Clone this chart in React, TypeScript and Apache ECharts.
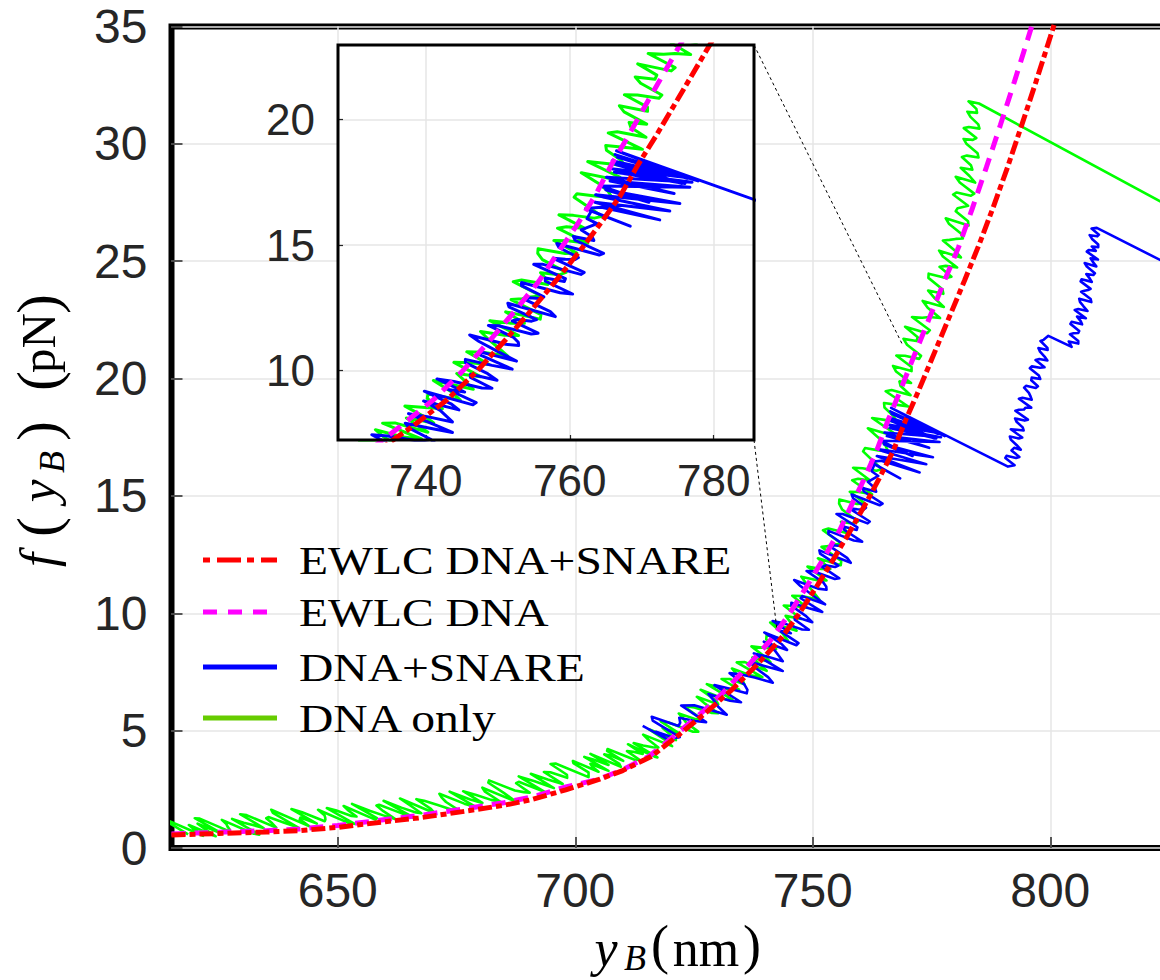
import { useEffect, useRef } from "react";
import * as echarts from "echarts";

type P = [number, number];

const mainXTicks = [650, 700, 750, 800];
const insetXTicks = [740, 760, 780];
const insetYTicks = [10, 15, 20];
const legendNames = ["EWLC DNA+SNARE", "EWLC DNA", "DNA+SNARE", "DNA only"];

const ewlcDnaSnare: P[] = [
  [615, 0.55], [625, 0.62], [635, 0.68], [642, 0.74], [650, 0.88], [660, 1.12], [667, 1.28], [677, 1.57],
  [685, 1.82], [691, 2.07], [698, 2.48], [705, 2.92], [710, 3.3], [716, 3.9], [722, 4.85], [728, 5.85],
  [733, 6.75], [738, 7.75], [743, 8.85], [747, 9.95], [751, 11.2], [754.5, 12.35], [758, 13.55], [761.5, 14.8],
  [764, 15.75], [767, 16.95], [769.5, 18.2], [772, 19.35], [775, 20.8], [778.5, 22.5], [782, 24.2], [785, 25.7],
  [788, 27.3], [791, 29.0], [794, 30.8], [797, 32.65], [800, 34.55], [802, 35.85],
];

const ewlcDna: P[] = [
  [615, 0.6], [625, 0.67], [635, 0.74], [642, 0.81], [650, 0.96], [660, 1.21], [667, 1.38], [677, 1.68],
  [685, 1.93], [691, 2.18], [698, 2.6], [704.7, 2.92], [709.6, 3.3], [715.5, 3.9], [721.3, 4.85], [727.1, 5.85],
  [731.8, 6.75], [736.3, 7.75], [741.1, 8.85], [745.0, 9.95], [748.9, 11.2], [752.3, 12.35], [755.7, 13.55],
  [758.6, 14.8], [760.9, 15.75], [763.5, 16.95], [765.8, 18.2], [768.15, 19.35], [771.0, 20.8], [774.4, 22.5],
  [777.8, 24.2], [780.7, 25.6], [783.6, 27.25], [786.55, 29.0], [789.5, 30.8], [792.45, 32.65], [795.4, 34.55],
  [797.4, 35.85],
];

// DNA only trace: low-force part, middle part, steep part, then the release line
const dnaOnlyLow: P[] = [
  [618.5, 0.58], [614.55, 1.06], [614.5, 1.15], [621.65, 0.52], [620.0, 0.76], [618.65, 0.98], [624.3, 0.5], [622.05, 0.81],
  [620.5, 1.04], [625.65, 0.61], [619.9, 1.27], [620.95, 1.25], [627.2, 0.71], [627.25, 0.79], [626.8, 0.91], [626.55, 1.02],
  [625.6, 1.2], [632.35, 0.61], [633.5, 0.57], [627.75, 1.24], [630.2, 1.08], [632.15, 0.98], [634.4, 0.85], [629.45, 1.44],
  [630.8, 1.4], [637.05, 0.87], [636.2, 1.05], [634.95, 1.27], [635.4, 1.32], [638.75, 1.08], [641.6, 0.88], [636.35, 1.5],
  [636.0, 1.63], [643.95, 0.93], [642.0, 1.22], [642.15, 1.3], [645.6, 1.04], [640.25, 1.66], [642.5, 1.52], [647.25, 1.14],
  [647.4, 1.21], [647.35, 1.3], [647.2, 1.4], [645.85, 1.63], [652.5, 1.05], [653.55, 1.03], [647.7, 1.7], [649.55, 1.61],
  [652.9, 1.36], [653.95, 1.34], [652.3, 1.59], [651.25, 1.79], [657.9, 1.21], [658.25, 1.27], [653.0, 1.88], [656.85, 1.58],
  [659.6, 1.39], [662.05, 1.24], [659.6, 1.57], [658.15, 1.81], [658.7, 1.84], [662.65, 1.54], [666.2, 1.27], [659.65, 2.01],
  [663.4, 1.72], [666.45, 1.51], [667.6, 1.48], [665.35, 1.8], [663.1, 2.11], [670.45, 1.48], [669.6, 1.67], [666.55, 2.08],
  [668.2, 2.01], [671.05, 1.83], [674.2, 1.62], [675.75, 1.57], [672.8, 1.96], [671.85, 2.16], [671.4, 2.31], [676.65, 1.89],
  [679.3, 1.72], [673.55, 2.4], [677.9, 2.07], [680.45, 1.92], [676.4, 2.42], [679.15, 2.26], [682.3, 2.05], [684.25, 1.97],
  [681.0, 2.4], [680.45, 2.57], [687.4, 1.99], [684.95, 2.35], [681.7, 2.78], [681.85, 2.88], [687.3, 2.45], [689.15, 2.38],
  [690.4, 2.36], [687.55, 2.76], [688.1, 2.82], [693.65, 2.38], [688.1, 3.05], [691.45, 2.84], [695.5, 2.55], [690.65, 3.16],
  [694.2, 2.92], [697.35, 2.73], [693.4, 3.24], [694.75, 3.23], [698.3, 2.99], [698.25, 3.12], [694.8, 3.58], [695.85, 3.6],
  [702.8, 3.02],
];
const dnaOnlyMid: P[] = [
  [702.8, 3.22], [699.6, 3.62], [699.5, 3.71], [704.9, 3.25], [703.6, 3.46], [703.2, 3.59], [707.0, 3.29], [701.9, 3.88],
  [703.8, 3.77], [707.0, 3.54], [703.2, 4.01], [709.6, 3.46], [709.3, 3.58], [706.1, 3.99], [707.6, 3.93], [709.1, 3.8],
  [710.1, 3.71], [706.7, 4.14], [706.8, 4.22], [712.5, 3.76], [713.6, 3.75], [710.9, 4.13], [712.2, 4.1], [714.2, 4.01],
  [711.1, 4.42], [716.7, 3.89], [717.3, 3.86], [712.3, 4.47], [714.3, 4.37], [716.3, 4.29], [717.5, 4.28], [715.4, 4.61],
  [714.3, 4.83], [720.4, 4.34], [718.9, 4.6], [715.5, 5.06], [721.2, 4.6], [720.0, 4.84], [718.4, 5.11], [721.9, 4.88],
  [718.0, 5.39], [719.5, 5.36], [724.8, 4.95], [725.9, 4.96], [723.4, 5.33], [722.7, 5.52], [721.8, 5.73], [725.5, 5.48],
  [726.7, 5.48], [722.8, 6.05], [725.1, 5.99], [728.8, 5.75], [730.1, 5.74], [727.4, 6.14], [725.6, 6.44], [730.1, 6.12],
  [729.7, 6.28], [726.4, 6.74], [731.9, 6.31], [733.1, 6.32], [727.7, 6.98], [731.7, 6.78], [734.5, 6.75], [730.8, 7.2],
  [732.5, 7.2], [735.6, 6.97], [735.2, 7.18], [734.1, 7.37], [733.0, 7.65], [736.8, 7.36], [739.4, 7.28], [734.0, 7.91],
  [735.7, 7.92], [740.3, 7.55], [738.3, 7.93], [737.3, 8.12], [741.1, 7.92], [740.4, 8.07], [737.1, 8.59],
];
const dnaOnlySteep: P[] = [
  [742.3, 8.48], [740.2, 8.89], [740.3, 9.08], [744.8, 8.83], [743.6, 9.15], [741.05, 9.61], [746.6, 9.26], [745.5, 9.57],
  [744.3, 9.89], [747.6, 9.76], [743.9, 10.33], [746.1, 10.31], [748.8, 10.24], [745.7, 10.75], [747.9, 10.73], [751.4, 10.58],
  [750.1, 10.91], [748.7, 11.25], [747.6, 11.56], [750.95, 11.41], [752.9, 11.4], [748.9, 11.99], [751.8, 11.89], [753.7, 11.89],
  [751.1, 12.34], [755.9, 12.05], [756.0, 12.23], [751.85, 12.83], [753.4, 12.86], [754.55, 12.93], [756.0, 12.97], [752.15, 13.54],
  [753.3, 13.61], [756.95, 13.43], [756.8, 13.63], [755.95, 13.9], [758.6, 13.82], [759.5, 13.91], [756.2, 14.42], [755.55, 14.67],
  [755.6, 14.85], [759.35, 14.66], [761.0, 14.68], [757.8, 15.18], [759.7, 15.17], [762.5, 15.07], [758.3, 15.67], [759.55, 15.73],
  [762.1, 15.66], [758.5, 16.2], [760.5, 16.18], [763.4, 16.07], [764.5, 16.14], [762.55, 16.52], [760.6, 16.9], [761.0, 17.04],
  [763.8, 16.94], [765.8, 16.92], [765.3, 17.15], [763.9, 17.47], [761.6, 17.88], [765.75, 17.64], [767.0, 17.69], [762.5, 18.32],
  [765.1, 18.24], [767.75, 18.15], [767.0, 18.4], [765.1, 18.77], [765.0, 18.96], [767.5, 18.89], [770.1, 18.81], [765.35, 19.46],
  [766.6, 19.51], [770.6, 19.29], [768.5, 19.68], [768.25, 19.88], [770.7, 19.81], [767.55, 20.3], [766.9, 20.54], [770.8, 20.32],
  [770.8, 20.49], [767.6, 20.98], [769.4, 20.97], [772.4, 20.84], [772.8, 20.97], [769.85, 21.44], [769.1, 21.69], [771.85, 21.6],
  [772.1, 21.76], [769.45, 22.21], [774.1, 21.93], [774.65, 22.06], [770.9, 22.62], [773.05, 22.59], [774.6, 22.62], [776.8, 22.58],
  [774.2, 23.02], [773.15, 23.31], [777.6, 23.05], [775.65, 23.43], [774.3, 23.75], [777.5, 23.61], [777.3, 23.81], [774.35, 24.29],
  [774.4, 24.47], [778.05, 24.28], [779.2, 24.34], [776.7, 24.76], [778.0, 24.8], [780.4, 24.73], [777.4, 25.2], [776.6, 25.45],
  [781.2, 25.16], [779.9, 25.46], [777.4, 25.88], [778.8, 25.91], [780.1, 25.95], [781.6, 25.97], [781.2, 26.18], [778.65, 26.6],
  [778.0, 26.83], [782.8, 26.52], [782.7, 26.7], [780.1, 27.13], [780.5, 27.26], [781.6, 27.31], [782.7, 27.36], [779.55, 27.84],
  [780.3, 27.93], [783.3, 27.79], [784.0, 27.88], [780.95, 28.35], [780.1, 28.6], [784.2, 28.35], [783.0, 28.63], [781.15, 28.98],
  [783.6, 28.9], [783.3, 29.09], [781.4, 29.44], [782.45, 29.5], [784.9, 29.42], [784.7, 29.6], [782.4, 29.99], [781.75, 30.21],
  [783.7, 30.17], [784.45, 30.25], [781.8, 30.67], [782.85, 30.72], [785.1, 30.65], [784.85, 30.83], [783.2, 31.15], [782.55, 31.37],
  [784.6, 31.32], [784.45, 31.49], [782.8, 31.81], [785.0, 31.72],
];
const dnaOnlyRelease: P[] = [[830, 26.8]];

// DNA+SNARE trace: folded branch, hopping region, then two further unfolding steps
const dnaSnareFolded: P[] = [
  [714.2, 5.2], [719.5, 4.62], [717.0, 4.95], [720.95, 4.69], [722.0, 4.72], [716.3, 5.43], [716.1, 5.59], [721.75, 5.2],
  [722.1, 5.34], [721.9, 5.55], [725.2, 5.41], [727.55, 5.36], [722.3, 6.07], [725.05, 6.08], [731.9, 5.68], [730.05, 6.03],
  [729.2, 6.28], [728.05, 6.56], [732.6, 6.27], [734.9, 6.21], [729.3, 6.94], [732.35, 6.8], [736.1, 6.59], [736.25, 6.74],
  [735.6, 6.97], [732.5, 7.45], [734.7, 7.4], [737.75, 7.26], [741.6, 7.04], [740.6, 7.28], [737.7, 7.71], [737.15, 7.91],
  [740.6, 7.71], [743.7, 7.54], [737.6, 8.29], [740.2, 8.17], [743.7, 7.96], [742.85, 8.19], [742.0, 8.42], [739.7, 8.79],
  [744.6, 8.44], [743.5, 8.68], [739.8, 9.18], [746.55, 8.64], [747.0, 8.73], [743.1, 9.25], [745.4, 9.15], [741.55, 9.67],
  [743.9, 9.57], [747.8, 9.31], [749.2, 9.3], [746.2, 9.73], [746.2, 9.86], [749.9, 9.62], [748.6, 9.88], [745.5, 10.32],
  [745.5, 10.45], [749.2, 10.21], [752.0, 10.06], [747.45, 10.64], [747.8, 10.73], [752.6, 10.38], [749.9, 10.78], [747.4, 11.16],
  [746.1, 11.42], [751.1, 11.05], [752.9, 11.0], [752.85, 11.13], [752.2, 11.32], [748.7, 11.8], [750.1, 11.79], [754.65, 11.46],
  [755.6, 11.49], [752.0, 11.98], [752.7, 12.04], [754.7, 11.97], [755.4, 12.03], [751.55, 12.54], [751.4, 12.68], [758.0, 12.15],
  [757.3, 12.35], [753.95, 12.81], [754.3, 12.9], [755.85, 12.87], [756.4, 12.94], [753.3, 13.38], [753.3, 13.51], [758.65, 13.1],
  [760.4, 13.05], [756.6, 13.56], [756.6, 13.69], [759.25, 13.55], [759.4, 13.66], [755.0, 14.23], [756.3, 14.23], [761.55, 13.83],
  [762.0, 13.91], [757.7, 14.47], [759.4, 14.43], [760.75, 14.42], [761.2, 14.5], [758.5, 14.9], [758.2, 15.06], [764.1, 14.6],
  [764.7, 14.67], [760.75, 15.19], [760.5, 15.34], [763.35, 15.18], [763.1, 15.33], [761.6, 15.6], [763.8, 15.85], [762.4, 16.05],
];
const dnaSnareHopping: P[] = [
  [763.0, 16.35], [768.4, 15.75], [762.2, 16.45], [764.4, 16.5], [772.5, 16.0], [763.5, 16.7], [773.9, 16.35], [764.8, 16.9],
  [763.6, 17.0], [775.3, 16.65], [765.0, 17.2], [771.0, 16.7], [764.3, 17.35], [776.7, 17.3], [765.6, 17.55], [774.5, 17.05],
  [765.1, 17.7], [777.0, 17.5], [766.2, 17.9], [776.0, 17.45], [765.5, 18.05], [777.3, 17.65], [766.4, 18.2], [775.6, 17.45],
  [765.9, 18.35], [777.2, 17.62], [766.6, 18.5], [776.3, 17.65], [766.3, 18.6], [777.8, 17.55], [766.5, 18.75],
];
const dnaSnareStep1: P[] = [
  [791.1, 16.25], [792.5, 16.31], [790.55, 16.62], [790.8, 16.71], [792.8, 16.62], [793.5, 16.66], [791.85, 16.94], [792.4, 17.05],
  [793.8, 16.97], [792.9, 17.17], [791.7, 17.4], [791.5, 17.53], [793.4, 17.45], [794.1, 17.49], [791.7, 17.84], [793.0, 17.82],
  [794.4, 17.79], [794.2, 17.92], [792.9, 18.16], [792.6, 18.3], [794.6, 18.21], [795.3, 18.25], [792.65, 18.63], [793.4, 18.67],
  [794.45, 18.68], [794.8, 18.76], [796.0, 18.76], [793.4, 19.14], [794.15, 19.18], [796.1, 19.1], [795.85, 19.24], [795.5, 19.39],
  [794.5, 19.61], [794.9, 19.69], [796.95, 19.6], [797.4, 19.67], [796.0, 19.93], [796.1, 20.04], [797.9, 19.98], [797.6, 20.13],
  [795.7, 20.44], [796.1, 20.52], [797.85, 20.46], [798.8, 20.48], [796.9, 20.79], [797.7, 20.83], [799.4, 20.77], [798.8, 20.94],
  [797.85, 21.15], [797.5, 21.3], [799.45, 21.22], [799.4, 21.31], [797.95, 21.6], [798.6, 21.65], [799.6, 21.82],
];
const dnaSnareStep2: P[] = [
  [804.5, 21.35], [803.9, 21.58], [805.9, 21.49], [805.9, 21.6], [804.15, 21.89], [804.9, 21.93], [805.9, 21.94], [806.1, 22.03],
  [804.25, 22.33], [804.5, 22.42], [806.7, 22.31], [806.4, 22.45], [805.65, 22.64], [807.5, 22.57], [805.15, 22.92], [805.9, 22.96],
  [807.85, 22.88], [807.0, 23.08], [806.25, 23.27], [806.1, 23.4], [808.65, 23.26], [808.5, 23.39], [806.5, 23.7], [807.2, 23.74],
  [807.95, 23.77], [808.5, 23.82], [806.4, 24.14], [806.6, 24.23], [808.75, 24.12], [808.3, 24.27], [807.6, 24.45], [809.1, 24.41],
  [809.4, 24.49], [807.7, 24.77], [807.25, 24.92], [809.7, 24.78], [809.0, 24.96], [808.5, 25.12], [810.05, 25.07], [807.7, 25.41],
  [808.1, 25.48], [809.6, 25.44], [808.75, 25.63], [810.1, 25.6], [810.1, 25.71], [808.8, 25.95], [808.3, 26.11], [809.9, 26.06],
  [810.25, 26.13], [808.7, 26.39], [809.8, 26.42],
];
const dnaSnareRelease: P[] = [[830, 24.35]];

const dnaOnly: P[] = [...dnaOnlyLow, ...dnaOnlyMid, ...dnaOnlySteep, ...dnaOnlyRelease];
const dnaSnare: P[] = [...dnaSnareFolded, ...dnaSnareHopping, ...dnaSnareStep1, ...dnaSnareStep2, ...dnaSnareRelease];

// main-plot data points the zoom connectors point to
const connectorTargets: P[] = [[769.0, 21.4], [742.4, 9.4]];

const RED = "#ff0000";
const MAGENTA = "#ff00ff";
const BLUE = "#0000ff";
const GREEN = "#00ff00";
const LEGEND_GREEN = "#66cc00";
const TICK_COLOR = "#262626";
const GRID_COLOR = "#e6e6e6";

const INSET = { left: 338, top: 45, width: 416, height: 395 };

function seriesFor(idx: number, z: number, dataWidth: number): any[] {
  const base = { type: "line", xAxisIndex: idx, yAxisIndex: idx, showSymbol: false, symbol: "none", silent: true, clip: true };
  return [
    { ...base, name: legendNames[3], data: dnaOnly, z, lineStyle: { color: GREEN, width: dataWidth, join: "round" }, itemStyle: { color: GREEN } },
    { ...base, name: legendNames[2], data: dnaSnare, z: z + 1, lineStyle: { color: BLUE, width: dataWidth, join: "round" }, itemStyle: { color: BLUE } },
    { ...base, name: legendNames[1], data: ewlcDna, z: z + 2, lineStyle: { color: MAGENTA, width: 5, type: [14, 9] }, itemStyle: { color: MAGENTA } },
    { ...base, name: legendNames[0], data: ewlcDnaSnare, z: z + 3, lineStyle: { color: RED, width: 5, type: [14, 4, 6, 4] }, itemStyle: { color: RED } },
  ];
}

function axisLabel(values: number[], size: number, margin: number) {
  return { customValues: values, fontFamily: "Liberation Sans", fontSize: size, color: TICK_COLOR, margin };
}

export default function App() {
  const ref = useRef<HTMLDivElement>(null);
  useEffect(() => {
    if (!ref.current) return;
    const chart = echarts.init(ref.current, null, { renderer: "svg" });
    const serif = "Liberation Serif";
    const legendY = [560, 612, 667, 718];
    const legendLines: any[] = [
      { stroke: RED, lineDash: [7, 7, 24, 6] },
      { stroke: MAGENTA, lineDash: [14, 11] },
      { stroke: BLUE, lineDash: null },
      { stroke: LEGEND_GREEN, lineDash: null },
    ];
    const graphicEls: any[] = [
      { id: "insetBg", type: "rect", z: 50, silent: true, shape: { x: INSET.left, y: INSET.top, width: INSET.width, height: INSET.height }, style: { fill: "#fff" } },
      { id: "insetBorder", type: "rect", z: 80, silent: true, shape: { x: INSET.left, y: INSET.top, width: INSET.width, height: INSET.height }, style: { fill: "none", stroke: "#000", lineWidth: 3 } },
    ];
    legendNames.forEach((name, i) => {
      graphicEls.push({
        id: "legLine" + i, type: "line", z: 86, silent: true,
        shape: { x1: 203, y1: legendY[i], x2: 277, y2: legendY[i] },
        style: { stroke: legendLines[i].stroke, lineWidth: 5, lineDash: legendLines[i].lineDash },
      });
      graphicEls.push({
        id: "legText" + i, type: "text", z: 86, silent: true, x: 299, y: legendY[i], scaleX: 1.16,
        style: { text: name, fontFamily: serif, fontSize: 41, fill: "#000", align: "left", verticalAlign: "middle" },
      });
    });
    // y-axis title pieces (rotated, reading bottom to top)
    const yTitle: [string, number, number, number, string][] = [
      ["f", 560, 38, 51, "italic"],
      ["(", 527, 38, 60, "normal"],
      ["y", 491, 38, 51, "italic"],
      ["B", 462, 52, 36, "italic"],
      [")", 431, 38, 60, "normal"],
      ["(", 381, 38, 60, "normal"],
      ["pN", 343, 38, 49, "normal"],
      [")", 304, 38, 60, "normal"],
    ];
    yTitle.forEach(([t, y, x, size, style], i) => {
      graphicEls.push({
        id: "yt" + i, type: "text", z: 90, silent: true, x, y, rotation: Math.PI / 2,
        style: { text: t, fontFamily: serif, fontSize: size, fontStyle: style, fill: "#000", align: "center", verticalAlign: "middle" },
      });
    });
    const xTitle: [string, number, number, number, string][] = [
      ["y", 606, 948, 52, "italic"],
      ["B", 635, 958, 36, "italic"],
      ["(", 660, 945, 54, "normal"],
      ["nm", 706, 948, 52, "normal"],
      [")", 752, 945, 54, "normal"],
    ];
    xTitle.forEach(([t, x, y, size, style], i) => {
      graphicEls.push({
        id: "xt" + i, type: "text", z: 90, silent: true, x, y,
        style: { text: t, fontFamily: serif, fontSize: size, fontStyle: style, fill: "#000", align: "center", verticalAlign: "middle" },
      });
    });

    const option: any = {
      animation: false,
      backgroundColor: "#ffffff",
      grid: [
        { left: 171.5, top: 26.5, width: 1021.25, height: 821.5, show: true, borderColor: "#000", borderWidth: 6, backgroundColor: "rgba(0,0,0,0)", containLabel: false, outerBoundsMode: "none" },
        { left: INSET.left, top: INSET.top, width: INSET.width, height: INSET.height, show: false, containLabel: false, outerBoundsMode: "none" },
      ],
      xAxis: [
        {
          type: "value", gridIndex: 0, min: 615, max: 830,
          axisLine: { show: false },
          axisTick: { show: true, inside: true, length: 11, customValues: mainXTicks, lineStyle: { color: TICK_COLOR, width: 1.5 } },
          axisLabel: axisLabel(mainXTicks, 48, 18),
          splitLine: { show: true, lineStyle: { color: GRID_COLOR, width: 1.5 } },
        },
        {
          type: "value", gridIndex: 1, min: 727.8, max: 785.6, z: 60,
          axisLine: { show: false },
          axisTick: { show: true, inside: true, length: 5, customValues: insetXTicks, lineStyle: { color: TICK_COLOR, width: 1.2 } },
          axisLabel: axisLabel(insetXTicks, 44, 18),
          splitLine: { show: true, lineStyle: { color: GRID_COLOR, width: 1.5 } },
        },
      ],
      yAxis: [
        {
          type: "value", gridIndex: 0, min: 0, max: 35, interval: 5,
          axisLine: { show: false },
          axisTick: { show: true, inside: true, length: 11, lineStyle: { color: TICK_COLOR, width: 1.5 } },
          axisLabel: { fontFamily: "Liberation Sans", fontSize: 48, color: TICK_COLOR, margin: 24 },
          splitLine: { show: true, lineStyle: { color: GRID_COLOR, width: 1.5 } },
        },
        {
          type: "value", gridIndex: 1, min: 7.24, max: 22.96, z: 60,
          axisLine: { show: false },
          axisTick: { show: true, inside: true, length: 5, customValues: insetYTicks, lineStyle: { color: TICK_COLOR, width: 1.2 } },
          axisLabel: axisLabel(insetYTicks, 44, 23),
          splitLine: { show: true, lineStyle: { color: GRID_COLOR, width: 1.5 } },
        },
      ],
      series: [...seriesFor(0, 3, 2.6), ...seriesFor(1, 70, 3.0)],
      graphic: { elements: graphicEls },
    };
    chart.setOption(option);

    const c0 = chart.convertToPixel({ gridIndex: 0 }, connectorTargets[0]) as number[];
    const c1 = chart.convertToPixel({ gridIndex: 0 }, connectorTargets[1]) as number[];
    const right = INSET.left + INSET.width;
    chart.setOption({
      graphic: {
        elements: [
          { id: "conn0", type: "line", z: 40, silent: true, shape: { x1: right, y1: INSET.top, x2: c0[0], y2: c0[1] }, style: { stroke: "#000", lineWidth: 1, lineDash: [3, 3] } },
          { id: "conn1", type: "line", z: 40, silent: true, shape: { x1: right, y1: INSET.top + INSET.height, x2: c1[0], y2: c1[1] }, style: { stroke: "#000", lineWidth: 1, lineDash: [3, 3] } },
        ],
      },
    });
    return () => chart.dispose();
  }, []);
  return <div ref={ref} style={{ position: "fixed", left: 0, top: 0, width: 1160, height: 980, background: "#fff" }} />;
}
